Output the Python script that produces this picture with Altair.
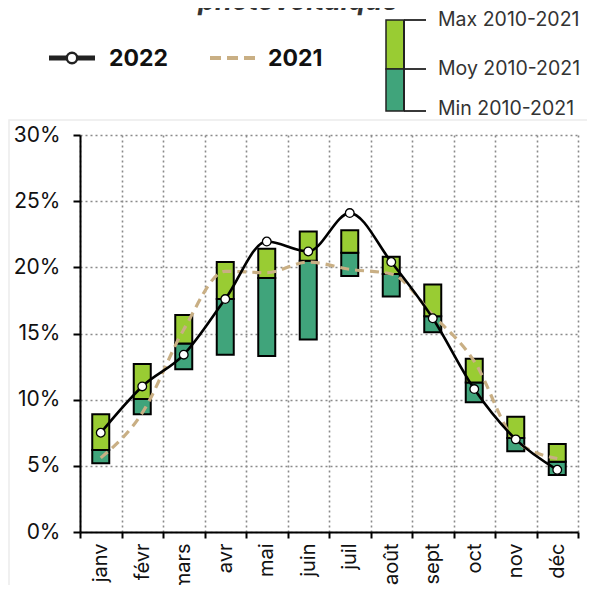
import altair as alt
import pandas as pd

months = ["janv", "févr", "mars", "avr", "mai", "juin", "juil", "août", "sept", "oct", "nov", "déc"]
max_10_21 = [8.9, 12.7, 16.4, 20.4, 21.4, 22.7, 22.8, 20.8, 18.7, 13.1, 8.7, 6.65]
moy_10_21 = [6.2, 10.05, 14.25, 17.6, 19.2, 20.5, 21.1, 19.5, 16.3, 11.3, 7.1, 5.3]
min_10_21 = [5.2, 8.9, 12.3, 13.4, 13.3, 14.55, 19.35, 17.8, 15.1, 9.8, 6.1, 4.3]
y2022 = [7.5, 11.0, 13.4, 17.6, 21.95, 21.2, 24.1, 20.4, 16.15, 10.8, 7.0, 4.7]
y2021 = [5.6, 9.0, 15.3, 19.7, 19.6, 20.4, 19.85, 19.5, 16.4, 12.9, 6.9, 5.55]
y_ticks = [0, 0.05, 0.10, 0.15, 0.20, 0.25, 0.30]

df = pd.DataFrame({
    "month": months,
    "max": [v / 100 for v in max_10_21],
    "moy": [v / 100 for v in moy_10_21],
    "min": [v / 100 for v in min_10_21],
    "y2022": [v / 100 for v in y2022],
    "y2021": [v / 100 for v in y2021],
})

FONT = "Inter"
LIGHT = "#99CC33"
DARK = "#40A47B"
TAN = "#C9AF84"
GRID = "#8a8a8a"

x = alt.X("month:N", sort=months, title=None,
          scale=alt.Scale(paddingInner=0, paddingOuter=0),
          axis=alt.Axis(tickBand="extent", grid=True, gridDash=[2, 3], gridColor=GRID,
                        gridWidth=1.6, labelAngle=270, labelAlign="right", labelBaseline="middle",
                        labelFontSize=20, labelFont=FONT, labelColor="#111", labelPadding=5,
                        domainColor="black", domainWidth=2, tickColor="black", tickWidth=2,
                        tickSize=6))
yscale = alt.Scale(domain=[0, 0.30], nice=False)
yaxis = alt.Axis(values=y_ticks, format=".0%", grid=True, gridDash=[2, 3], gridColor=GRID,
                 gridWidth=1.6, labelFontSize=21, labelFont=FONT, labelColor="#111",
                 labelPadding=13, domainColor="black", domainWidth=2, tickColor="black",
                 tickWidth=2, tickSize=7)

base = alt.Chart(df)
bar_low = base.mark_bar(size=17, color=DARK, stroke="black", strokeWidth=2).encode(
    x=x, y=alt.Y("min:Q", scale=yscale, axis=yaxis, title=None), y2="moy:Q")
bar_high = base.mark_bar(size=17, color=LIGHT, stroke="black", strokeWidth=2).encode(
    x=x, y=alt.Y("moy:Q", scale=yscale, title=None), y2="max:Q")
line21 = base.mark_line(interpolate="monotone", color=TAN, strokeWidth=3.2,
                        strokeDash=[9, 6]).encode(x=x, y=alt.Y("y2021:Q", scale=yscale))
line22 = base.mark_line(interpolate="monotone", color="black", strokeWidth=2.6).encode(
    x=x, y=alt.Y("y2022:Q", scale=yscale))
pts22 = base.mark_point(filled=True, fill="white", stroke="black", strokeWidth=1.3,
                        size=75, opacity=1).encode(x=x, y=alt.Y("y2022:Q", scale=yscale))

one = pd.DataFrame({"k": [0]})
lg = alt.Chart(one)

# faint frame around the plot region
frame = lg.mark_rect(fill=None, stroke="#ececec", strokeWidth=1.5).encode(
    x=alt.value(-71), x2=alt.value(509), y=alt.value(-15), y2=alt.value(470))

# legend 2022 / 2021
leg_line22 = lg.mark_rule(color="#222", strokeWidth=5).encode(
    x=alt.value(-31), x2=alt.value(15), y=alt.value(-77))
leg_pt22 = lg.mark_point(filled=True, fill="white", stroke="#222", strokeWidth=2.5,
                         size=110, opacity=1).encode(x=alt.value(-8), y=alt.value(-77))
leg_txt22 = lg.mark_text(align="left", baseline="middle", fontSize=23, fontWeight="bold",
                         font=FONT, color="#111").encode(
    x=alt.value(29), y=alt.value(-76), text=alt.value("2022"))
leg_line21 = lg.mark_rule(color=TAN, strokeWidth=4, strokeDash=[11, 6]).encode(
    x=alt.value(130), x2=alt.value(176), y=alt.value(-77))
leg_txt21 = lg.mark_text(align="left", baseline="middle", fontSize=23, fontWeight="bold",
                         font=FONT, color="#111").encode(
    x=alt.value(188), y=alt.value(-76), text=alt.value("2021"))

# legend Max / Moy / Min
leg_hi = lg.mark_rect(color=LIGHT, stroke="#222", strokeWidth=1.5).encode(
    x=alt.value(306), x2=alt.value(324), y=alt.value(-115), y2=alt.value(-66))
leg_lo = lg.mark_rect(color=DARK, stroke="#222", strokeWidth=1.5).encode(
    x=alt.value(306), x2=alt.value(324), y=alt.value(-66), y2=alt.value(-24))
leg_vert = lg.mark_rule(color="#222", strokeWidth=2).encode(
    x=alt.value(324), y=alt.value(-115), y2=alt.value(-24))
leg_t1 = lg.mark_rule(color="#222", strokeWidth=1.8).encode(
    x=alt.value(324), x2=alt.value(346), y=alt.value(-115))
leg_t2 = lg.mark_rule(color="#222", strokeWidth=1.8).encode(
    x=alt.value(324), x2=alt.value(346), y=alt.value(-66))
leg_t3 = lg.mark_rule(color="#222", strokeWidth=1.8).encode(
    x=alt.value(324), x2=alt.value(346), y=alt.value(-24))
leg_l1 = lg.mark_text(align="left", baseline="middle", fontSize=19.5, font=FONT,
                      color="#333").encode(x=alt.value(358), y=alt.value(-115),
                                           text=alt.value("Max 2010-2021"))
leg_l2 = lg.mark_text(align="left", baseline="middle", fontSize=19.5, font=FONT,
                      color="#333").encode(x=alt.value(358), y=alt.value(-66),
                                           text=alt.value("Moy 2010-2021"))
leg_l3 = lg.mark_text(align="left", baseline="middle", fontSize=19.5, font=FONT,
                      color="#333").encode(x=alt.value(358), y=alt.value(-26),
                                           text=alt.value("Min 2010-2021"))

title = lg.mark_text(align="center", baseline="alphabetic", fontSize=27, fontWeight="bold",
                     fontStyle="italic", font=FONT, color="#333").encode(
    x=alt.value(218), y=alt.value(-125), text=alt.value("photovoltaïque"))

chart = alt.layer(
    frame, bar_low, bar_high, line21, line22, pts22,
    leg_line22, leg_pt22, leg_txt22, leg_line21, leg_txt21,
    leg_hi, leg_lo, leg_vert, leg_t1, leg_t2, leg_t3, leg_l1, leg_l2, leg_l3, title,
).properties(
    width=498, height=397,
    autosize=alt.AutoSizeParams(type="none"),
    padding={"left": 72, "top": 127, "right": 9, "bottom": 53},
).configure_view(stroke=None)

chart.save("out.html", embed_options={"renderer": "svg", "actions": False})
